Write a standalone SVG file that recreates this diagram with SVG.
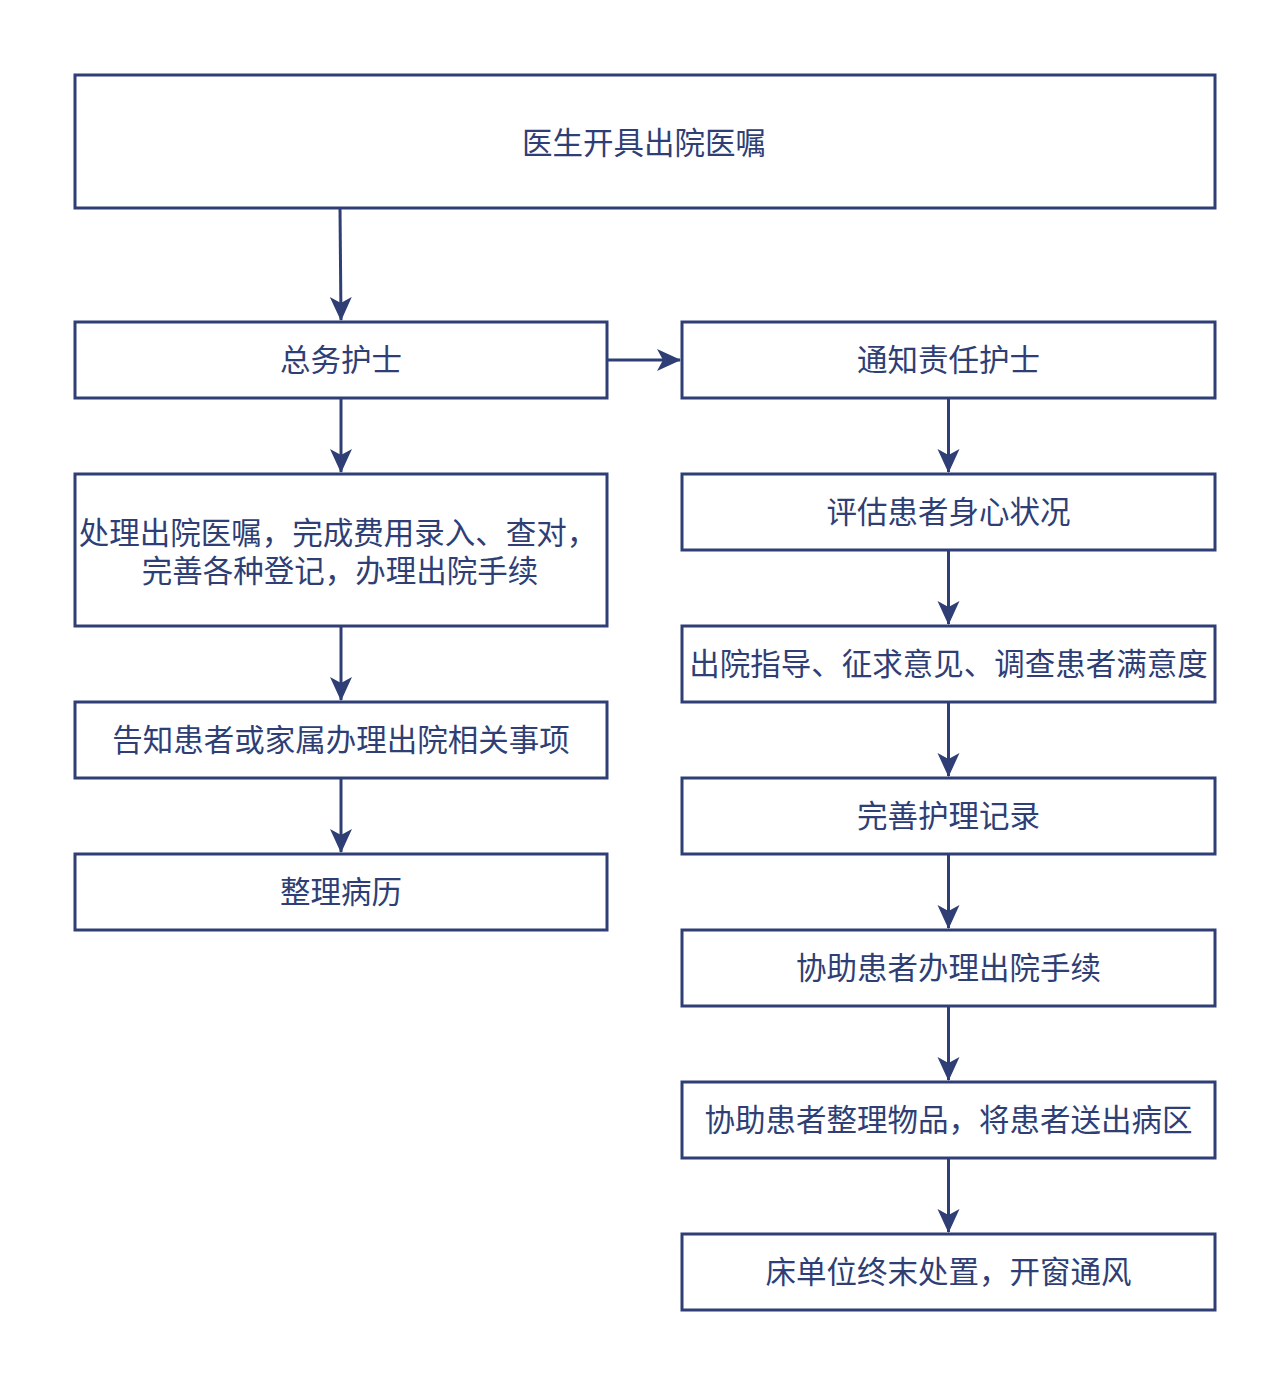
<svg xmlns="http://www.w3.org/2000/svg" width="1280" height="1392" viewBox="0 0 1280 1392">
<defs>
<style>
.box{fill:#ffffff;stroke:#2f3f75;stroke-width:3}
.t{fill:#2f3f75;font-family:"Noto Sans CJK SC","Noto Sans",sans-serif;font-size:30.5px;text-anchor:middle;dominant-baseline:central}
.e{fill:none;stroke:#2f3f75;stroke-width:3;marker-end:url(#ah)}
</style>
<marker id="ah" viewBox="0 0 24 24" refX="23" refY="12" markerWidth="24" markerHeight="24" markerUnits="userSpaceOnUse" orient="auto">
<path d="M0,1 L24,12 L0,23 L6,12 Z" fill="#2f3f75"/>
</marker>
</defs>
<rect width="1280" height="1392" fill="#ffffff"/>
<g id="connectors">
<path class="e" d="M340,208 L341,320"/>
<path class="e" d="M607,360 L680,360"/>
<path class="e" d="M341,398 L341,472"/>
<path class="e" d="M341,626 L341,700"/>
<path class="e" d="M341,778 L341,852"/>
<path class="e" d="M948.5,398 L948.5,472"/>
<path class="e" d="M948.5,550 L948.5,624"/>
<path class="e" d="M948.5,702 L948.5,776"/>
<path class="e" d="M948.5,854 L948.5,928"/>
<path class="e" d="M948.5,1006 L948.5,1080"/>
<path class="e" d="M948.5,1158 L948.5,1232"/>
</g>
<g id="n0"><rect class="box" x="75" y="75" width="1140" height="133"/><text class="t" x="644" y="141">医生开具出院医嘱</text></g>
<g id="n1"><rect class="box" x="75" y="322" width="532" height="76"/><text class="t" x="341" y="358">总务护士</text></g>
<g id="n2"><rect class="box" x="682" y="322" width="533" height="76"/><text class="t" x="948.5" y="358">通知责任护士</text></g>
<g id="n3"><rect class="box" x="75" y="474" width="532" height="152"/><text class="t" x="338" y="531">处理出院医嘱，完成费用录入、查对，</text><text class="t" x="340" y="569">完善各种登记，办理出院手续</text></g>
<g id="n4"><rect class="box" x="75" y="702" width="532" height="76"/><text class="t" x="341" y="738">告知患者或家属办理出院相关事项</text></g>
<g id="n5"><rect class="box" x="75" y="854" width="532" height="76"/><text class="t" x="341" y="890">整理病历</text></g>
<g id="n6"><rect class="box" x="682" y="474" width="533" height="76"/><text class="t" x="948.5" y="510">评估患者身心状况</text></g>
<g id="n7"><rect class="box" x="682" y="626" width="533" height="76"/><text class="t" x="948.5" y="662">出院指导、征求意见、调查患者满意度</text></g>
<g id="n8"><rect class="box" x="682" y="778" width="533" height="76"/><text class="t" x="948.5" y="814">完善护理记录</text></g>
<g id="n9"><rect class="box" x="682" y="930" width="533" height="76"/><text class="t" x="948.5" y="966">协助患者办理出院手续</text></g>
<g id="n10"><rect class="box" x="682" y="1082" width="533" height="76"/><text class="t" x="948.5" y="1118">协助患者整理物品，将患者送出病区</text></g>
<g id="n11"><rect class="box" x="682" y="1234" width="533" height="76"/><text class="t" x="948.5" y="1270">床单位终末处置，开窗通风</text></g>
</svg>
